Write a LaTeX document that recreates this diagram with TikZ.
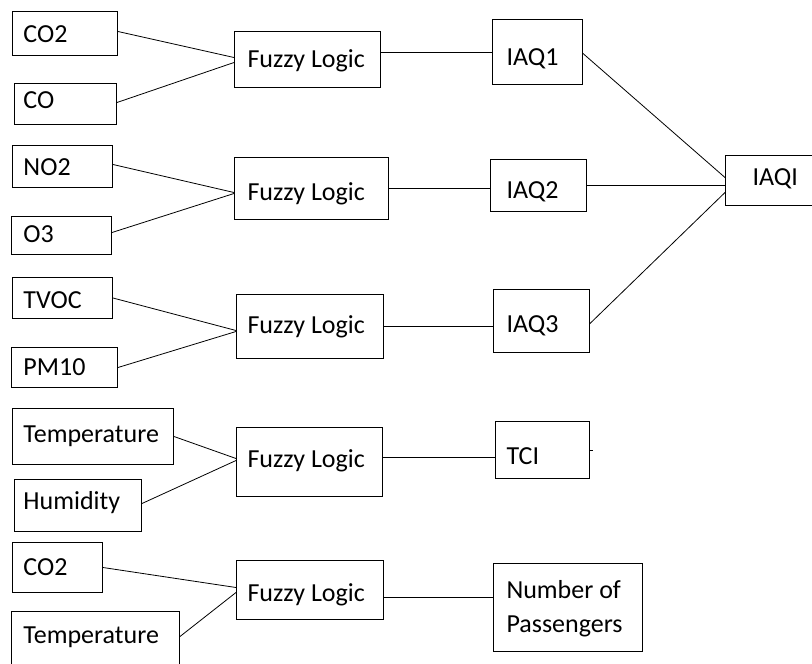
\documentclass[tikz,border=0pt]{standalone}
\usepackage{fontspec}
\setmainfont{Carlito}
\begin{document}
\begin{tikzpicture}[x=1pt,y=-1pt,
  box/.style={draw, line width=1pt, anchor=north west, inner sep=0pt,
    align=flush left, font=\fontsize{26pt}{34pt}\selectfont, text depth=0pt,
    execute at begin node={\spaceskip=0pt\xspaceskip=0pt}},
  link/.style={line width=0.8pt}]
\useasboundingbox (0,0) rectangle (812,664);
\clip (0,0) rectangle (812,664);
% inputs
\node[box, text width=105pt, minimum height=44pt, text height=18pt] (co2a) at (12,11) {\hspace*{11pt}CO2};
\node[box, text width=102pt, minimum height=41pt, text height=9pt] (co) at (14,83) {\hspace*{9pt}CO};
\node[box, text width=100pt, minimum height=42pt, text height=18pt] (no2) at (12,145) {\hspace*{11pt}NO2};
\node[box, text width=100pt, minimum height=38pt, text height=14pt] (o3) at (11,216) {\hspace*{12pt}O3};
\node[box, text width=100pt, minimum height=41pt, text height=21pt] (tvoc) at (12,277) {\hspace*{11pt}TVOC};
\node[box, text width=106pt, minimum height=40pt, text height=16pt] (pm10) at (11,347) {\hspace*{12pt}PM10};
\node[box, text width=161pt, minimum height=56pt, text height=12pt] (temp1) at (12,408) {\hspace*{11pt}Temperature};
\node[box, text width=127pt, minimum height=52pt, text height=8pt] (hum) at (14,479) {\hspace*{9pt}Humidity};
\node[box, text width=90pt, minimum height=50pt, text height=16pt] (co2b) at (12,542) {\hspace*{11pt}CO2};
\node[box, text width=168pt, minimum height=60pt, text height=4pt] (temp2) at (11,611) {\hspace*{12pt}Temperature};
% fuzzy logic
\node[box, text width=146pt, minimum height=56pt, text height=16pt] (f1) at (234,31) {\hspace*{13pt}Fuzzy Logic};
\node[box, text width=154pt, minimum height=62pt, text height=24pt] (f2) at (234,157) {\hspace*{13pt}Fuzzy Logic};
\node[box, text width=147pt, minimum height=64pt, text height=14pt] (f3) at (236,294) {\hspace*{11pt}Fuzzy Logic};
\node[box, text width=146pt, minimum height=69pt, text height=11pt] (f4) at (236,427) {\hspace*{11pt}Fuzzy Logic};
\node[box, text width=147pt, minimum height=59pt, text height=23pt] (f5) at (236,560) {\hspace*{11pt}Fuzzy Logic};
% outputs
\node[box, text width=90pt, minimum height=65pt, text height=27pt] (iaq1) at (492,19) {\hspace*{14pt}IAQ1};
\node[box, text width=96pt, minimum height=52pt, text height=26pt] (iaq2) at (490,159) {\hspace*{16pt}IAQ2};
\node[box, text width=96pt, minimum height=63pt, text height=23pt] (iaq3) at (493,289) {\hspace*{13pt}IAQ3};
\node[box, text width=95pt, minimum height=50pt, text height=10pt] (iaqi) at (725,155) {\hspace*{27pt}IAQI};
\node[box, text width=94pt, minimum height=57pt, text height=29pt] (tci) at (495,421) {\hspace*{11pt}TCI};
\node[box, text width=149pt, minimum height=88pt, text height=0pt, text depth=18pt] (nop) at (493,563) {\hspace*{13pt}Number of\\\hspace*{13pt}Passengers};
% helper coordinates
\coordinate (a4) at ([yshift=4.5pt]f4.east);
\coordinate (a5) at ([yshift=-7.5pt]f5.east);
\coordinate (tcistub) at ([xshift=3pt]tci.east);
% connectors
\draw[link] ([yshift=2pt]co2a.east) -- ([yshift=2pt]f1.west);
\draw[link] ([yshift=1.5pt]co.east) -- ([yshift=-3pt]f1.west);
\draw[link] ([yshift=2pt]no2.east) -- ([yshift=-4pt]f2.west);
\draw[link] ([yshift=3pt]o3.east) -- ([yshift=-5pt]f2.west);
\draw[link] (tvoc.east) -- ([yshift=-4pt]f3.west);
\draw[link] (pm10.east) -- ([yshift=-5pt]f3.west);
\draw[link] (temp1.east) -- ([yshift=3.5pt]f4.west);
\draw[link] ([yshift=2pt]hum.east) -- ([yshift=1.5pt]f4.west);
\draw[link] (co2b.east) -- ([yshift=2.5pt]f5.west);
\draw[link] ([yshift=5pt]temp2.east) -- ([yshift=-2.5pt]f5.west);
\draw[link] (f1.east |- iaq1.west) -- (iaq1.west);
\draw[link] (f2.east) -- (f2.east -| iaq2.west);
\draw[link] (f3.east) -- (f3.east -| iaq3.west);
\draw[link] (a4) -- (a4 -| tci.west);
\draw[link] (a5) -- (a5 -| nop.west);
\draw[link] ([yshift=-1.5pt]iaq1.east) -- ([yshift=3pt]iaqi.west);
\draw[link] (iaq2.east) -- (iaq2.east -| iaqi.west);
\draw[link] ([yshift=-2.5pt]iaq3.east) -- ([yshift=-12pt]iaqi.west);
\draw[link] (tci.east) -- (tcistub);
\end{tikzpicture}
\end{document}
